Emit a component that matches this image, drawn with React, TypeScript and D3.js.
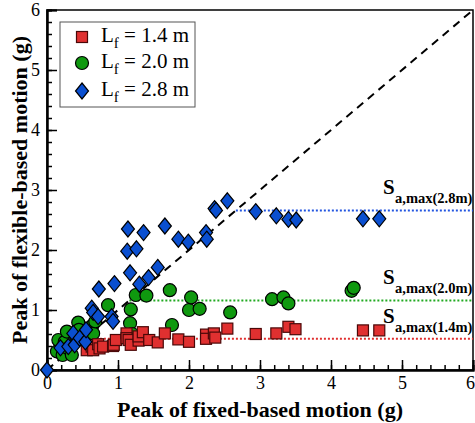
import React, { useEffect, useRef } from 'react';
import * as d3 from 'd3';

// L_f = 1.4 m (red squares)
const redX = [0.56, 0.63, 0.65, 0.72, 0.74, 0.79, 0.93, 0.94, 0.97, 1.12, 1.12, 1.15, 1.18, 1.29, 1.29, 1.35, 1.44, 1.56, 1.66, 1.85, 2.0, 2.24, 2.24, 2.35, 2.37, 2.54, 2.94, 3.23, 3.4, 3.5, 4.45, 4.68];
const redY = [0.33, 0.39, 0.33, 0.43, 0.36, 0.39, 0.4, 0.42, 0.5, 0.61, 0.53, 0.5, 0.42, 0.49, 0.56, 0.63, 0.5, 0.46, 0.61, 0.51, 0.47, 0.59, 0.52, 0.61, 0.54, 0.69, 0.6, 0.61, 0.72, 0.68, 0.66, 0.66];

// L_f = 2.0 m (green circles)
const greenX = [0.14, 0.16, 0.22, 0.25, 0.28, 0.3, 0.35, 0.44, 0.45, 0.64, 0.65, 0.68, 0.86, 1.17, 1.18, 1.2, 1.25, 1.4, 1.73, 1.76, 2.0, 2.03, 2.15, 2.58, 3.17, 3.33, 3.4, 4.29, 4.32];
const greenY = [0.31, 0.5, 0.25, 0.47, 0.64, 0.36, 0.25, 0.79, 0.67, 0.74, 0.61, 0.81, 1.08, 0.78, 1.01, 0.6, 1.25, 1.24, 1.33, 0.75, 1.0, 1.21, 1.02, 0.96, 1.18, 1.21, 1.11, 1.32, 1.37];

// L_f = 2.8 m (blue diamonds)
const blueX = [0, 0.19, 0.3, 0.37, 0.39, 0.46, 0.54, 0.55, 0.63, 0.65, 0.72, 0.73, 0.91, 0.93, 0.95, 1.13, 1.14, 1.17, 1.26, 1.3, 1.36, 1.43, 1.56, 1.66, 1.85, 1.99, 2.24, 2.25, 2.36, 2.38, 2.54, 2.94, 3.23, 3.4, 3.51, 4.45, 4.68];
const blueY = [0, 0.37, 0.39, 0.61, 0.42, 0.53, 0.47, 0.67, 1.03, 0.96, 0.89, 1.35, 0.89, 0.81, 1.44, 1.98, 2.35, 1.62, 2.02, 1.43, 2.29, 1.54, 1.71, 2.4, 2.18, 2.13, 2.29, 2.18, 2.69, 2.66, 2.82, 2.64, 2.57, 2.51, 2.5, 2.52, 2.52];

// S_a,max levels
const saLabels = ['1.4m', '2.0m', '2.8m'];
const saValues = [0.52, 1.16, 2.66];
const saColors = ['#e03030', '#22aa22', '#2255e0'];

const majorTicks = [0, 1, 2, 3, 4, 5, 6];
const legendLabels = ['1.4', '2.0', '2.8'];

const App = () => {
  const svgRef = useRef<SVGSVGElement>(null);
  const width = 475;
  const height = 423;
  const margin = { left: 47, right: 2, top: 10, bottom: 53 };

  useEffect(() => {
    const svg = d3.select(svgRef.current);
    svg.selectAll('*').remove();
    const serif = 'Liberation Serif, Times New Roman, DejaVu Serif, serif';

    const x = d3.scaleLinear().domain([0, 6]).range([margin.left, width - margin.right]);
    const y = d3.scaleLinear().domain([0, 6]).range([height - margin.bottom, margin.top]);
    const minor = d3.range(0, 6.01, 0.2);

    // frame
    svg.append('rect')
      .attr('x', x(0)).attr('y', y(6))
      .attr('width', x(6) - x(0)).attr('height', y(0) - y(6))
      .attr('fill', 'none').attr('stroke', '#000').attr('stroke-width', 1.5);

    // diagonal y = x
    svg.append('line')
      .attr('x1', x(0)).attr('y1', y(0)).attr('x2', x(6)).attr('y2', y(6))
      .attr('stroke', '#000').attr('stroke-width', 2).attr('stroke-dasharray', '8,6');

    // dotted S_a,max lines
    saValues.forEach((v, i) => {
      svg.append('line')
        .attr('x1', x(v)).attr('x2', x(6)).attr('y1', y(v)).attr('y2', y(v))
        .attr('stroke', saColors[i]).attr('stroke-width', 2).attr('stroke-dasharray', '2,2');
    });

    // axes (ticks pointing inward)
    const xMinor = svg.append('g').attr('transform', `translate(0, ${y(0)})`)
      .call(d3.axisBottom(x).tickValues(minor).tickSize(-5).tickFormat(() => ''));
    const xMajor = svg.append('g').attr('transform', `translate(0, ${y(0)})`)
      .call(d3.axisBottom(x).tickValues(majorTicks).tickSize(-10).tickPadding(6).tickFormat(d3.format('d')));
    const yMinor = svg.append('g').attr('transform', `translate(${x(0)}, 0)`)
      .call(d3.axisLeft(y).tickValues(minor).tickSize(-5).tickFormat(() => ''));
    const yMajor = svg.append('g').attr('transform', `translate(${x(0)}, 0)`)
      .call(d3.axisLeft(y).tickValues(majorTicks).tickSize(-10).tickPadding(7).tickFormat(d3.format('d')));
    [xMinor, xMajor, yMinor, yMajor].forEach(g => {
      g.select('.domain').attr('stroke-width', 2);
      g.selectAll('.tick line').attr('stroke-width', 1.5);
      g.selectAll('text').style('font-family', serif).style('font-size', '18px').attr('fill', '#000');
    });
    xMajor.selectAll('.tick').filter((d: any) => d === 6).select('text').attr('dx', -3);

    // points
    const green = svg.append('g');
    greenX.forEach((v, i) => {
      green.append('circle')
        .attr('cx', x(v)).attr('cy', y(greenY[i])).attr('r', 6.5)
        .attr('fill', '#0f990f').attr('stroke', '#000').attr('stroke-width', 1.2);
    });
    const red = svg.append('g');
    redX.forEach((v, i) => {
      red.append('rect')
        .attr('x', x(v) - 5.5).attr('y', y(redY[i]) - 5.5).attr('width', 11).attr('height', 11)
        .attr('fill', '#e03030').attr('stroke', '#4a0808').attr('stroke-width', 1.2);
    });
    const diamond = (cx: number, cy: number) =>
      `M${cx},${cy - 8}L${cx + 6.5},${cy}L${cx},${cy + 8}L${cx - 6.5},${cy}Z`;
    const blue = svg.append('g');
    blueX.forEach((v, i) => {
      blue.append('path')
        .attr('d', diamond(x(v), y(blueY[i])))
        .attr('fill', '#0a4fd0').attr('stroke', '#000').attr('stroke-width', 1.2);
    });

    // S_a,max labels
    const labelY = [[323, 332], [284, 293], [194, 203]];
    saLabels.forEach((lab, i) => {
      svg.append('text').attr('x', 383).attr('y', labelY[i][0])
        .style('font-family', serif).style('font-weight', 'bold').style('font-size', '21px').text('S');
      svg.append('text').attr('x', 395).attr('y', labelY[i][1])
        .style('font-family', serif).style('font-weight', 'bold').style('font-size', '14.5px')
        .text(`a,max(${lab})`);
    });

    // legend
    const lg = svg.append('g');
    lg.append('rect').attr('x', 60).attr('y', 22).attr('width', 135).attr('height', 85)
      .attr('fill', '#fff').attr('stroke', '#555').attr('stroke-width', 1);
    const rows = [37, 63, 91];
    lg.append('rect').attr('x', 82 - 5.5).attr('y', rows[0] - 5.5).attr('width', 11).attr('height', 11)
      .attr('fill', '#e03030').attr('stroke', '#4a0808').attr('stroke-width', 1.2);
    lg.append('circle').attr('cx', 82).attr('cy', rows[1]).attr('r', 6.5)
      .attr('fill', '#0f990f').attr('stroke', '#000').attr('stroke-width', 1.2);
    lg.append('path').attr('d', diamond(82, rows[2]))
      .attr('fill', '#0a4fd0').attr('stroke', '#000').attr('stroke-width', 1.2);
    legendLabels.forEach((lab, i) => {
      const t = lg.append('text').attr('x', 101).attr('y', rows[i] + 5)
        .style('font-family', serif).style('font-size', '21px');
      t.append('tspan').text('L');
      t.append('tspan').attr('dy', 6).style('font-size', '15px').text('f');
      t.append('tspan').attr('dy', -6).text(` = ${lab} m`);
    });

    // axis titles
    svg.append('text')
      .attr('x', (x(0) + x(6)) / 2).attr('y', 417)
      .attr('text-anchor', 'middle')
      .style('font-family', serif).style('font-weight', 'bold').style('font-size', '22px')
      .text('Peak of fixed-based motion (g)');
    svg.append('text')
      .attr('transform', 'rotate(-90)')
      .attr('x', -(y(0) + y(6)) / 2).attr('y', 27)
      .attr('text-anchor', 'middle')
      .style('font-family', serif).style('font-weight', 'bold').style('font-size', '22px')
      .text('Peak of flexible-based motion (g)');
  }, []);

  return (
    <svg ref={svgRef} width={width} height={height}
      style={{ position: 'absolute', left: 0, top: 0, background: '#fff' }}></svg>
  );
};

export default App;
